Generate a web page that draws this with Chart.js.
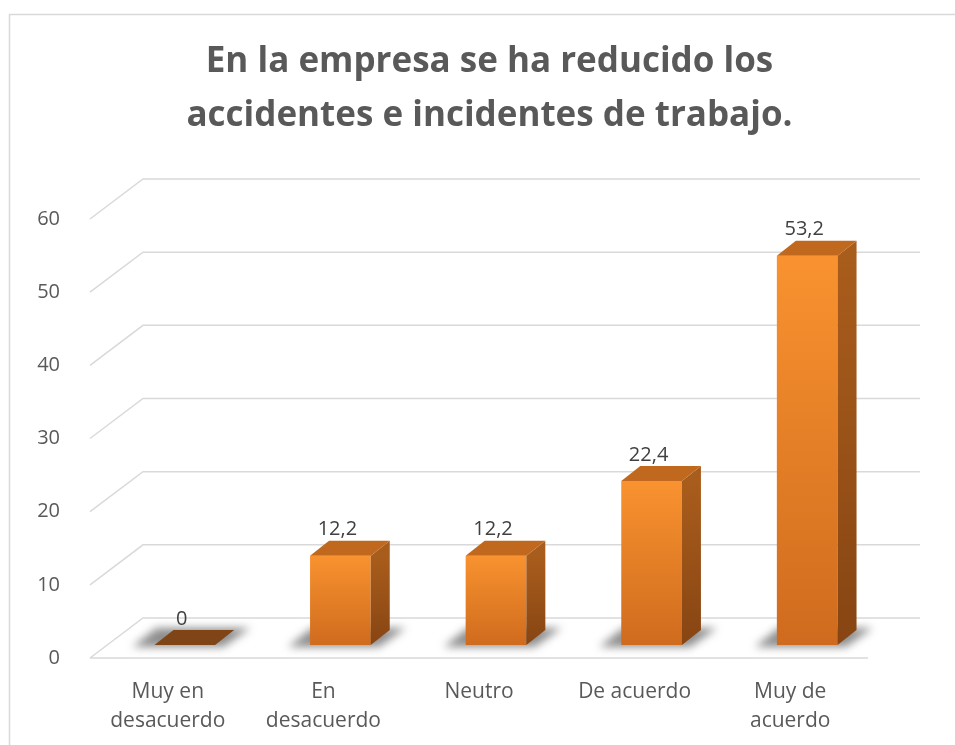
<!DOCTYPE html>
<html lang="es">
<head>
    <meta charset="UTF-8">
    <title>Reducción de accidentes</title>
    <style>
        * { margin: 0; padding: 0; box-sizing: border-box; }
        body { background: #ffffff; width: 955px; height: 745px; overflow: hidden; }
        #chart { display: block; }
    </style>
</head>
<body>
    <canvas id="chart" width="955" height="745"></canvas>

    <script src="https://cdn.jsdelivr.net/npm/chart.js"></script>
    <script>
        // datos
        const categories = [
            ['Muy en', 'desacuerdo'],
            ['En', 'desacuerdo'],
            ['Neutro'],
            ['De acuerdo'],
            ['Muy de', 'acuerdo']
        ];
        const percentages = [0, 12.2, 12.2, 22.4, 53.2];
        const yTicks = [0, 10, 20, 30, 40, 50, 60];

        // 3D offsets (back wall, bar front, bar depth)
        const WALL_DX = 53, WALL_DY = -40;
        const BAR_DX = 17, BAR_DY = -13;
        const DEPTH_DX = 19, DEPTH_DY = -15;
        const GRID_COLOR = '#d9d9d9';

        const fmt = v => String(v).replace('.', ',');

        const frontGradient = (context) => {
            const chart = context.chart;
            const y = chart.scales.y;
            if (!chart.chartArea || !y) return '#f08a2a';
            const top = y.getPixelForValue(context.raw);
            const bottom = y.getPixelForValue(0);
            const g = chart.ctx.createLinearGradient(0, top, 0, bottom);
            g.addColorStop(0, '#f9922f');
            g.addColorStop(1, '#cf6b1e');
            return g;
        };

        const threeD = {
            id: 'threeD',
            beforeDraw(chart) {
                const ctx = chart.ctx;
                ctx.save();
                ctx.strokeStyle = GRID_COLOR;
                ctx.lineWidth = 1.5;
                ctx.strokeRect(9.5, 14.5, 1000, 800);
                ctx.restore();
            },
            beforeDatasetsDraw(chart) {
                const ctx = chart.ctx;
                const { left, right } = chart.chartArea;
                const y = chart.scales.y;
                ctx.save();
                ctx.strokeStyle = GRID_COLOR;
                ctx.lineWidth = 1.5;
                yTicks.forEach(v => {
                    const py = y.getPixelForValue(v);
                    ctx.beginPath();
                    ctx.moveTo(left, py);
                    ctx.lineTo(left + WALL_DX, py + WALL_DY);
                    ctx.lineTo(right + WALL_DX - 1, py + WALL_DY);
                    ctx.stroke();
                });
                // front floor edge
                const p0 = y.getPixelForValue(0);
                ctx.beginPath();
                ctx.moveTo(left, p0);
                ctx.lineTo(right, p0);
                ctx.stroke();
                ctx.restore();

                // floor shadows
                const meta = chart.getDatasetMeta(0);
                ctx.save();
                ctx.translate(BAR_DX, BAR_DY);
                ctx.filter = 'blur(4px)';
                ctx.fillStyle = 'rgba(50,50,50,0.55)';
                meta.data.forEach(bar => {
                    const l = bar.x - bar.width / 2, r = bar.x + bar.width / 2, b = bar.base;
                    ctx.beginPath();
                    ctx.moveTo(l - 22, b + 2);
                    ctx.lineTo(r + 8, b + 2);
                    ctx.lineTo(r + DEPTH_DX + 16, b + DEPTH_DY - 2);
                    ctx.lineTo(l + 2, b + DEPTH_DY - 2);
                    ctx.closePath();
                    ctx.fill();
                });
                ctx.restore();

                ctx.save();
                ctx.translate(BAR_DX, BAR_DY);
            },
            afterDatasetsDraw(chart) {
                const ctx = chart.ctx;
                const meta = chart.getDatasetMeta(0);
                meta.data.forEach((bar, i) => {
                    const l = bar.x - bar.width / 2, r = bar.x + bar.width / 2;
                    const t = bar.y, b = bar.base;
                    // side face
                    if (b - t > 0.5) {
                        const sg = ctx.createLinearGradient(0, t, 0, b);
                        sg.addColorStop(0, '#a95d1c');
                        sg.addColorStop(1, '#874513');
                        ctx.fillStyle = sg;
                        ctx.beginPath();
                        ctx.moveTo(r, t);
                        ctx.lineTo(r + DEPTH_DX, t + DEPTH_DY);
                        ctx.lineTo(r + DEPTH_DX, b + DEPTH_DY);
                        ctx.lineTo(r, b);
                        ctx.closePath();
                        ctx.fill();
                    }
                    // top face
                    ctx.fillStyle = percentages[i] === 0 ? '#7f4516' : '#c0681e';
                    ctx.beginPath();
                    ctx.moveTo(l, t);
                    ctx.lineTo(l + DEPTH_DX, t + DEPTH_DY);
                    ctx.lineTo(r + DEPTH_DX, t + DEPTH_DY);
                    ctx.lineTo(r, t);
                    ctx.closePath();
                    ctx.fill();
                    // value label
                    ctx.fillStyle = '#404040';
                    ctx.font = '20px "Open Sans"';
                    ctx.textAlign = 'center';
                    ctx.textBaseline = 'middle';
                    ctx.fillText(fmt(percentages[i]), bar.x - 3, t - 26);
                });
                ctx.restore();
            }
        };

        const ctx = document.getElementById('chart').getContext('2d');
        new Chart(ctx, {
            type: 'bar',
            data: {
                labels: categories,
                datasets: [{
                    data: percentages,
                    backgroundColor: frontGradient,
                    borderWidth: 0,
                    categoryPercentage: 1,
                    barPercentage: 0.39,
                    clip: false
                }]
            },
            options: {
                responsive: false,
                animation: false,
                layout: { padding: { left: 24, right: 0, top: 0, bottom: 0 } },
                plugins: {
                    legend: { display: false },
                    tooltip: { enabled: false },
                    title: {
                        display: true,
                        text: ['En la empresa se ha reducido los', 'accidentes e incidentes de trabajo.'],
                        color: '#595959',
                        font: { family: 'Open Sans', size: 35, weight: 'bold', lineHeight: 54 / 35 },
                        padding: { top: 35, bottom: 76 }
                    }
                },
                scales: {
                    x: {
                        grid: { display: false },
                        border: { display: false },
                        ticks: {
                            color: '#595959',
                            font: { family: 'Open Sans', size: 21, lineHeight: 29 / 21 },
                            padding: 12,
                            maxRotation: 0,
                            autoSkip: false
                        },
                        afterFit: s => { s.height = 87; }
                    },
                    y: {
                        min: 0,
                        max: 60,
                        grid: { display: false },
                        border: { display: false },
                        ticks: {
                            stepSize: 10,
                            color: '#595959',
                            font: { family: 'Open Sans', size: 20 },
                            padding: 22
                        },
                        afterFit: s => { s.width = 66; }
                    },
                    // empty right margin beside the plot
                    yRight: {
                        position: 'right',
                        grid: { display: false },
                        border: { display: false },
                        ticks: { display: false },
                        afterFit: s => { s.width = 87; }
                    }
                }
            },
            plugins: [threeD]
        });
    </script>
</body>
</html>
